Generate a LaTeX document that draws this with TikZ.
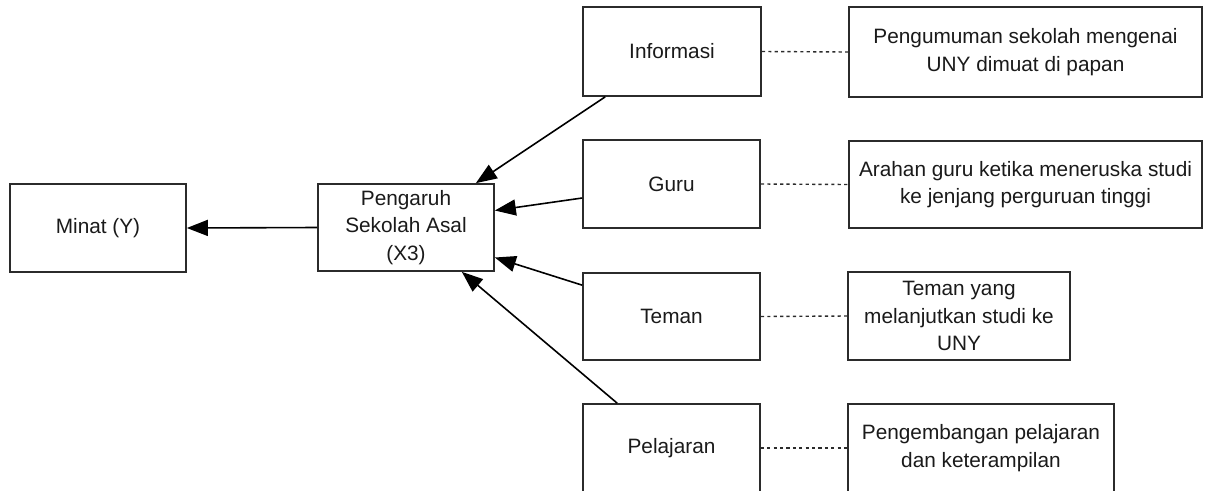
\documentclass[tikz,border=0pt]{standalone}
\usepackage{fontspec}
\setmainfont{Liberation Sans}
\usetikzlibrary{arrows.meta}
\definecolor{edge}{HTML}{2B2B2B}
\definecolor{ink}{HTML}{1A1A1A}
\tikzset{
  box/.style={draw=edge, line width=1.7pt, fill=white, align=center,
    text=ink, inner sep=0pt,
    font=\fontsize{20.8}{27.5}\selectfont},
  link/.style={draw=black, line width=1.6pt,
    -{Triangle[length=21pt,width=16pt]}},
  dots/.style={draw=edge, line width=1.4pt, dash pattern=on 3.2pt off 3.2pt}
}
\begin{document}
\begin{tikzpicture}[x=1pt,y=-1pt]
  \useasboundingbox (0,0) rectangle (1206,490);
  \clip (0,0) rectangle (1206,490);

  % central and outcome boxes
  \node[box, minimum width=176pt, minimum height=88pt] (minat) at (98,228) {Minat (Y)};
  \node[box, minimum width=176pt, minimum height=87pt] (peng) at (406,227.5)
    {Pengaruh\\Sekolah Asal\\(X3)};

  % factor boxes
  \node[box, minimum width=178pt, minimum height=89pt] (info)  at (672,51.5)  {Informasi};
  \node[box, minimum width=177pt, minimum height=88pt] (guru)  at (671.5,184) {Guru};
  \node[box, minimum width=177pt, minimum height=87pt] (teman) at (671.5,316.5) {Teman};
  \node[box, minimum width=177pt, minimum height=88pt] (pel)   at (671.5,448) {Pelajaran};

  % indicator boxes
  \node[box, minimum width=353pt, minimum height=90pt] (d1) at (1025.5,52)
    {Pengumuman sekolah mengenai\\UNY dimuat di papan};
  \node[box, minimum width=353pt, minimum height=87pt] (d2) at (1025.5,184.5)
    {Arahan guru ketika meneruska studi\\ke jenjang perguruan tinggi};
  \node[box, minimum width=222pt, minimum height=88pt] (d3) at (959,316)
    {Teman yang\\melanjutkan studi ke\\UNY};
  \node[box, minimum width=266pt, minimum height=88pt] (d4) at (981,448)
    {Pengembangan pelajaran\\dan keterampilan};

  % arrows into the central box
  \draw[link] (peng.west) -- (minat.east);
  \draw[link] ([xshift=23pt]info.south west) -- ([xshift=-19pt]peng.north east);
  \draw[link] ([yshift=-14pt]guru.west) -- ([yshift=17pt]peng.east);
  \draw[link] ([yshift=-13pt]teman.north west) -- ([yshift=-30pt]peng.east);
  \draw[link] ([xshift=35pt]pel.north west) -- ([xshift=-33pt]peng.south east);

  % dotted ties to indicators
  \draw[dots] (info.east) -- (d1.west);
  \draw[dots] (guru.east) -- (d2.west);
  \draw[dots] (teman.east) -- (d3.west);
  \draw[dots] (pel.east) -- (d4.west);
\end{tikzpicture}
\end{document}
